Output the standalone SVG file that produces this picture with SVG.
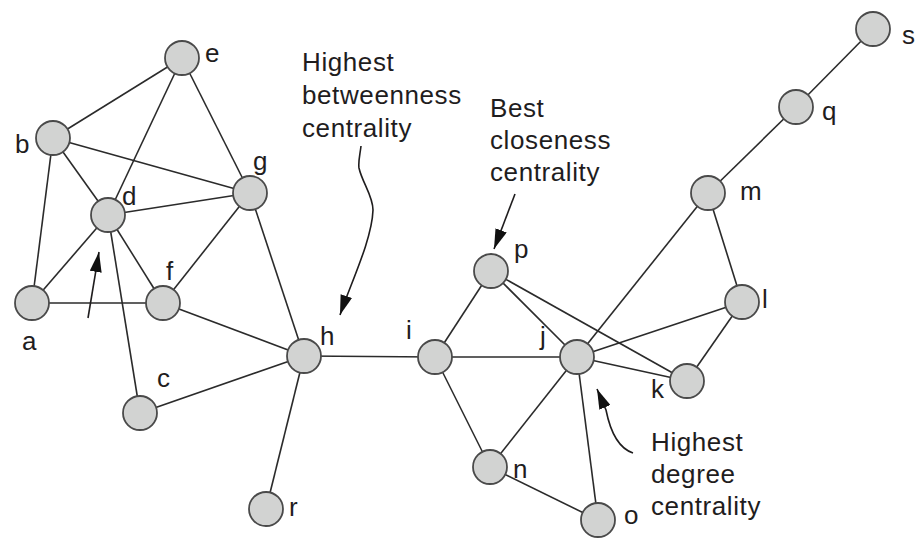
<svg xmlns="http://www.w3.org/2000/svg" width="915" height="538" viewBox="0 0 915 538">
  <style>
    .edge { stroke: #2b2b2b; stroke-width: 1.6; fill: none; }
    .node circle { fill: #d2d3d2; stroke: #4a4a4a; stroke-width: 1.8; }
    .lbl { font-family: "Liberation Sans", Arial, sans-serif; font-size: 26px; fill: #1f1d1e; }
    .txt { letter-spacing: 0.6px; }
    .note { stroke: #1f1d1e; stroke-width: 1.6; fill: none; }
  </style>
  <defs>
    <marker id="arrow" viewBox="0 0 20 12" refX="20" refY="6" markerWidth="20" markerHeight="12" markerUnits="userSpaceOnUse" orient="auto">
      <path d="M0,0 L20,6 L0,12 Z" fill="#111"/>
    </marker>
  </defs>
  <rect width="915" height="538" fill="#ffffff"/>

  <g id="connectors">
    <line class="edge" x1="182" y1="58" x2="53" y2="138"/>
    <line class="edge" x1="182" y1="58" x2="108" y2="215"/>
    <line class="edge" x1="182" y1="58" x2="250" y2="193"/>
    <line class="edge" x1="53" y1="138" x2="250" y2="193"/>
    <line class="edge" x1="53" y1="138" x2="108" y2="215"/>
    <line class="edge" x1="53" y1="138" x2="32" y2="303"/>
    <line class="edge" x1="108" y1="215" x2="250" y2="193"/>
    <line class="edge" x1="108" y1="215" x2="32" y2="303"/>
    <line class="edge" x1="108" y1="215" x2="163" y2="303"/>
    <line class="edge" x1="108" y1="215" x2="140" y2="413"/>
    <line class="edge" x1="32" y1="303" x2="163" y2="303"/>
    <line class="edge" x1="163" y1="303" x2="250" y2="193"/>
    <line class="edge" x1="163" y1="303" x2="304" y2="356"/>
    <line class="edge" x1="250" y1="193" x2="304" y2="356"/>
    <line class="edge" x1="140" y1="413" x2="304" y2="356"/>
    <line class="edge" x1="304" y1="356" x2="435" y2="357"/>
    <line class="edge" x1="304" y1="356" x2="266" y2="509"/>
    <line class="edge" x1="435" y1="357" x2="491" y2="271"/>
    <line class="edge" x1="435" y1="357" x2="577" y2="357"/>
    <line class="edge" x1="435" y1="357" x2="490" y2="467"/>
    <line class="edge" x1="491" y1="271" x2="577" y2="357"/>
    <line class="edge" x1="491" y1="271" x2="687" y2="381"/>
    <line class="edge" x1="577" y1="357" x2="687" y2="381"/>
    <line class="edge" x1="577" y1="357" x2="742" y2="302"/>
    <line class="edge" x1="577" y1="357" x2="708" y2="193"/>
    <line class="edge" x1="577" y1="357" x2="490" y2="467"/>
    <line class="edge" x1="577" y1="357" x2="598" y2="520"/>
    <line class="edge" x1="490" y1="467" x2="598" y2="520"/>
    <line class="edge" x1="687" y1="381" x2="742" y2="302"/>
    <line class="edge" x1="742" y1="302" x2="708" y2="193"/>
    <line class="edge" x1="708" y1="193" x2="796" y2="107"/>
    <line class="edge" x1="796" y1="107" x2="873" y2="29"/>
  </g>

  <g id="nodes">
    <g id="node-e" class="node"><circle cx="182" cy="58" r="17"/><text class="lbl" x="205" y="62">e</text></g>
    <g id="node-b" class="node"><circle cx="53" cy="138" r="17"/><text class="lbl" x="15" y="153">b</text></g>
    <g id="node-d" class="node"><circle cx="108" cy="215" r="17"/><text class="lbl" x="122" y="205">d</text></g>
    <g id="node-g" class="node"><circle cx="250" cy="193" r="17"/><text class="lbl" x="253" y="170">g</text></g>
    <g id="node-a" class="node"><circle cx="32" cy="303" r="17"/><text class="lbl" x="22" y="350">a</text></g>
    <g id="node-f" class="node"><circle cx="163" cy="303" r="17"/><text class="lbl" x="166" y="280">f</text></g>
    <g id="node-c" class="node"><circle cx="140" cy="413" r="17"/><text class="lbl" x="157" y="387">c</text></g>
    <g id="node-h" class="node"><circle cx="304" cy="356" r="17"/><text class="lbl" x="320" y="345">h</text></g>
    <g id="node-r" class="node"><circle cx="266" cy="509" r="17"/><text class="lbl" x="289" y="516">r</text></g>
    <g id="node-i" class="node"><circle cx="435" cy="357" r="17"/><text class="lbl" x="406" y="339">i</text></g>
    <g id="node-p" class="node"><circle cx="491" cy="271" r="17"/><text class="lbl" x="514" y="258">p</text></g>
    <g id="node-j" class="node"><circle cx="577" cy="357" r="17"/><text class="lbl" x="540" y="345">j</text></g>
    <g id="node-n" class="node"><circle cx="490" cy="467" r="17"/><text class="lbl" x="513" y="478">n</text></g>
    <g id="node-o" class="node"><circle cx="598" cy="520" r="17"/><text class="lbl" x="624" y="524">o</text></g>
    <g id="node-k" class="node"><circle cx="687" cy="381" r="17"/><text class="lbl" x="651" y="398">k</text></g>
    <g id="node-l" class="node"><circle cx="742" cy="302" r="17"/><text class="lbl" x="762" y="308">l</text></g>
    <g id="node-m" class="node"><circle cx="708" cy="193" r="17"/><text class="lbl" x="740" y="200">m</text></g>
    <g id="node-q" class="node"><circle cx="796" cy="107" r="17"/><text class="lbl" x="822" y="120">q</text></g>
    <g id="node-s" class="node"><circle cx="873" cy="29" r="17"/><text class="lbl" x="902" y="44">s</text></g>
  </g>

  <g id="annotations">
    <path class="note" d="M88,318 L99,252" marker-end="url(#arrow)"/>
    <text class="lbl txt" x="302" y="71">Highest</text>
    <text class="lbl txt" x="302" y="104">betweenness</text>
    <text class="lbl txt" x="302" y="137">centrality</text>
    <path class="note" d="M361,146 C360,155 358,162 359,168 C362,182 373,196 373,210 C372,240 350,285 340,315" marker-end="url(#arrow)"/>
    <text class="lbl txt" x="490" y="117">Best</text>
    <text class="lbl txt" x="490" y="149">closeness</text>
    <text class="lbl txt" x="490" y="181">centrality</text>
    <path class="note" d="M515,194 L494,249" marker-end="url(#arrow)"/>
    <text class="lbl txt" x="651" y="451">Highest</text>
    <text class="lbl txt" x="651" y="483">degree</text>
    <text class="lbl txt" x="651" y="515">centrality</text>
    <path class="note" d="M633,453 C618,448 610,430 606,410 L597,389" marker-end="url(#arrow)"/>
  </g>
</svg>
